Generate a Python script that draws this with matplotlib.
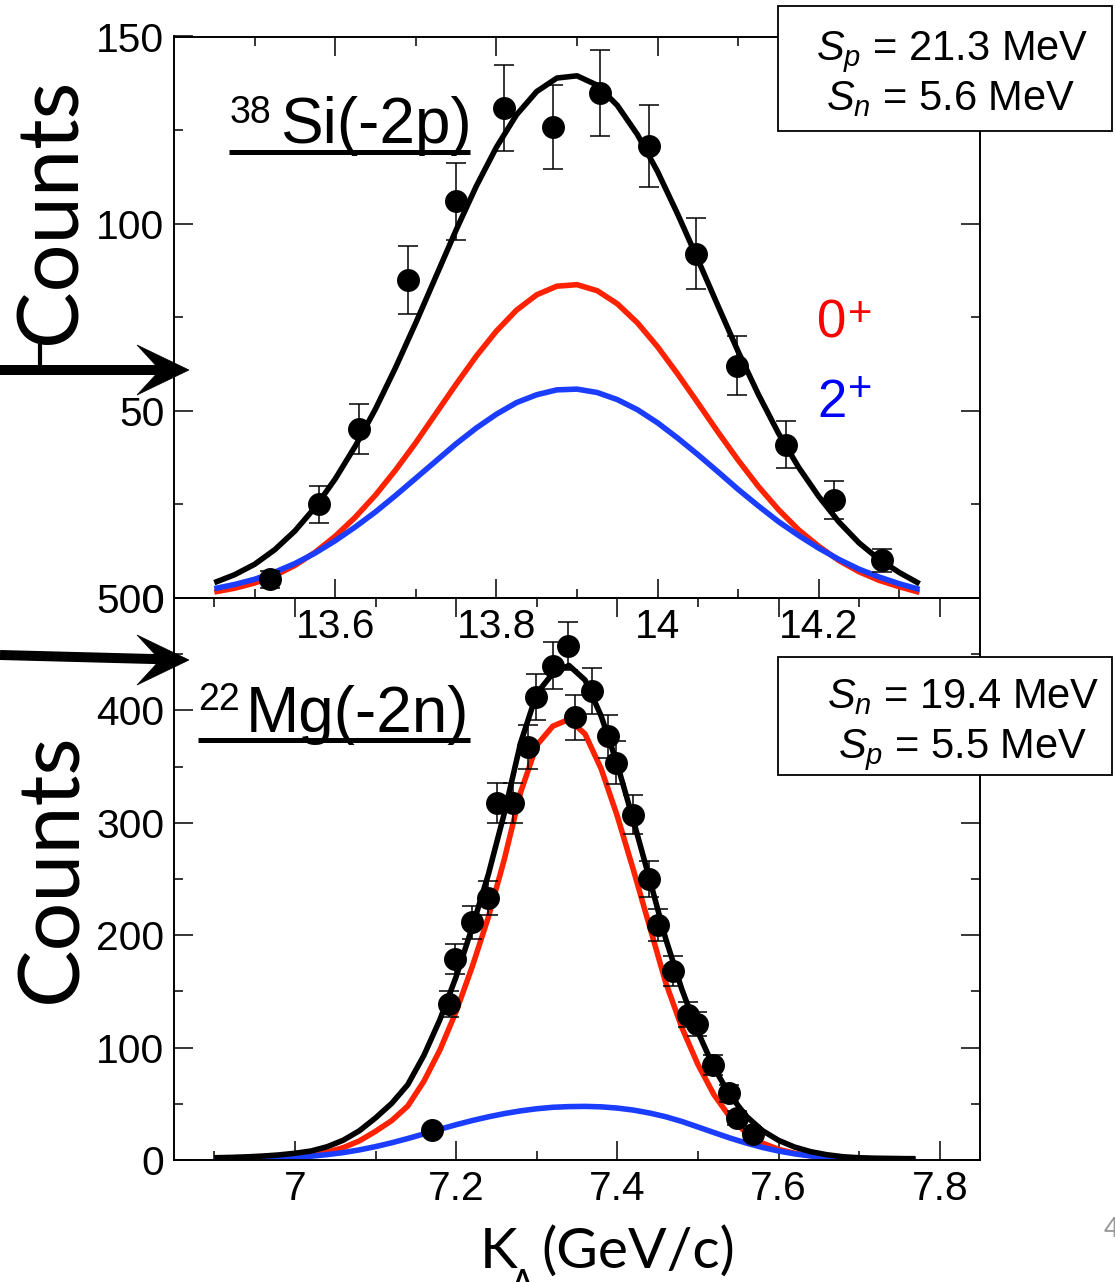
import matplotlib
matplotlib.use("Agg")
import matplotlib.pyplot as plt
from matplotlib.lines import Line2D
from matplotlib.patches import Polygon, Rectangle
from matplotlib.ticker import FixedLocator, FuncFormatter

# ---------------- data ----------------
# 38Si(-2p): measured momentum distribution
kA_si = [13.519, 13.580, 13.630, 13.690, 13.750, 13.810, 13.870, 13.928,
         13.989, 14.048, 14.099, 14.159, 14.219, 14.279]
counts_si = [5.0, 25.0, 45.1, 84.9, 106.0, 130.9, 125.8, 135.0,
             120.8, 92.0, 62.1, 40.9, 26.2, 10.1]
err_si = [2.2, 4.9, 6.7, 9.1, 10.3, 11.4, 11.2, 11.5,
          10.9, 9.4, 7.8, 6.3, 5.1, 3.1]

# 38Si(-2p): calculated components (0+, 2+) and their total
kA_si_fit = [13.450, 13.475, 13.500, 13.525, 13.550, 13.575, 13.600, 13.625,
             13.650, 13.675, 13.700, 13.725, 13.750, 13.775, 13.800, 13.825,
             13.850, 13.875, 13.900, 13.925, 13.950, 13.975, 14.000, 14.025,
             14.050, 14.075, 14.100, 14.125, 14.150, 14.175, 14.200, 14.225,
             14.250, 14.275, 14.300, 14.325]
si_0plus = [1.6, 2.6, 4.0, 6.0, 8.7, 12.2, 16.5, 21.6,
            27.5, 34.2, 41.5, 49.3, 57.1, 64.6, 71.3, 76.9,
            81.0, 83.3, 83.7, 82.1, 78.6, 73.5, 67.1, 59.8,
            52.1, 44.3, 36.8, 29.8, 23.6, 18.2, 13.8, 10.0,
            7.0, 4.7, 3.0, 1.5]
si_2plus = [2.5, 3.6, 5.0, 6.9, 9.2, 12.0, 15.3, 19.0,
            23.0, 27.4, 32.0, 36.6, 41.2, 45.4, 49.1, 52.2,
            54.3, 55.6, 55.8, 54.9, 53.0, 50.3, 46.8, 42.7,
            38.3, 33.7, 29.0, 24.6, 20.4, 16.7, 13.3, 10.3,
            7.7, 5.6, 3.8, 2.3]
si_total = [4.1, 6.2, 9.0, 12.9, 17.9, 24.2, 31.8, 40.6,
            50.5, 61.6, 73.5, 85.9, 98.3, 110.0, 120.4, 129.1,
            135.3, 138.9, 139.5, 137.0, 131.6, 123.8, 113.9, 102.5,
            90.4, 78.0, 65.8, 54.4, 44.0, 34.9, 27.1, 20.3,
            14.7, 10.3, 6.8, 3.8]

# 22Mg(-2n): measured momentum distribution
kA_mg = [7.170, 7.191, 7.199, 7.220, 7.240, 7.251, 7.271, 7.289, 7.299,
         7.320, 7.339, 7.348, 7.369, 7.389, 7.399, 7.420, 7.439, 7.450,
         7.469, 7.488, 7.499, 7.519, 7.539, 7.549, 7.568]
counts_mg = [26.4, 138.7, 178.9, 211.4, 233.0, 317.2, 317.2, 367.5, 411.7,
             439.6, 457.2, 393.9, 417.0, 376.9, 353.6, 307.3, 250.0, 208.9,
             168.2, 129.4, 121.1, 84.6, 59.3, 37.6, 22.8]
err_mg = [3.0, 11.8, 13.4, 14.5, 15.3, 17.8, 17.8, 19.2, 20.3,
          21.0, 21.4, 19.8, 20.4, 19.4, 18.8, 17.5, 15.8, 14.5,
          13.0, 11.4, 11.0, 9.2, 7.7, 6.1, 4.8]

# 22Mg(-2n): calculated components and total
kA_mg_fit = [6.90, 6.92, 6.94, 6.96, 6.98, 7.00, 7.02, 7.04, 7.06, 7.08,
             7.10, 7.12, 7.14, 7.16, 7.18, 7.20, 7.22, 7.24, 7.26, 7.28,
             7.30, 7.32, 7.34, 7.36, 7.38, 7.40, 7.42, 7.44, 7.46, 7.48,
             7.50, 7.52, 7.54, 7.56, 7.58, 7.60, 7.62, 7.64, 7.66, 7.68,
             7.70, 7.72, 7.74, 7.76, 7.77]
mg_0plus = [0.4, 0.6, 0.9, 1.3, 2.0, 3.0, 4.6, 7.0, 11.0, 17.0,
            25.5, 35.0, 48.0, 70.0, 98.0, 132.0, 172.0, 216.0, 268.0, 327.0,
            369.0, 386.0, 392.0, 379.0, 348.0, 306.0, 258.0, 208.0, 158.0, 118.0,
            85.0, 58.0, 38.0, 24.0, 15.0, 9.5, 6.0, 3.8, 2.4, 1.5,
            1.0, 0.7, 0.5, 0.3, 0.3]
mg_2plus = [0.35, 0.5, 0.8, 1.2, 1.7, 2.4, 3.4, 4.8, 6.6, 9.0,
            11.9, 15.3, 19.1, 23.2, 27.4, 31.4, 35.1, 38.4, 41.3, 43.7,
            45.6, 46.9, 47.5, 47.7, 47.3, 46.2, 44.4, 41.8, 38.5, 34.3,
            29.4, 24.4, 19.5, 15.1, 11.2, 8.0, 5.5, 3.6, 2.3, 1.4,
            0.9, 0.6, 0.4, 0.3, 0.3]
mg_total = [2.0, 2.3, 2.8, 3.5, 4.5, 6.0, 8.0, 11.8, 17.6, 26.0,
            37.4, 50.3, 67.0, 93.0, 125.0, 163.0, 207.0, 254.0, 309.0, 371.0,
            415.0, 433.0, 440.0, 427.0, 395.0, 352.0, 302.0, 250.0, 197.0, 152.0,
            114.0, 82.0, 57.5, 39.0, 26.2, 17.5, 11.5, 7.4, 4.7, 2.9,
            2.0, 1.6, 1.4, 1.2, 1.2]

si_xticks = [13.6, 13.8, 14.0, 14.2]
si_xminor = [13.5, 13.7, 13.9, 14.1, 14.3]
si_yticks = [0, 50, 100, 150]
si_yminor = [25, 75, 125]
mg_xticks = [7.0, 7.2, 7.4, 7.6, 7.8]
mg_xminor = [6.9, 7.1, 7.3, 7.5, 7.7]
mg_yticks = [0, 100, 200, 300, 400, 500]
mg_yminor = [50, 150, 250, 350, 450]

# ---------------- style ----------------
plt.rcParams['font.family'] = ['Liberation Sans', 'DejaVu Sans']
plt.rcParams['mathtext.fontset'] = 'custom'
plt.rcParams['mathtext.rm'] = 'Liberation Sans'
plt.rcParams['mathtext.it'] = 'Liberation Sans:italic'
plt.rcParams['axes.linewidth'] = 1.4

RED = '#ff2200'
BLUE = '#1a3dff'
CURVE_LW = 4.0

W, H, DPI = 1115, 1282, 100
fig = plt.figure(figsize=(W / DPI, H / DPI), dpi=DPI)
fig.patch.set_facecolor('white')


def fx(px):
    return px / W


def fy(py):
    return 1 - py / H


L, R = 174, 980
ax_si = fig.add_axes([fx(L), fy(598), (R - L) / W, (598 - 36.5) / H])
ax_mg = fig.add_axes([fx(L), fy(1160), (R - L) / W, (1160 - 598) / H])

fmt = FuncFormatter(lambda v, p: '%g' % v)

for ax in (ax_si, ax_mg):
    ax.patch.set_visible(False)
    ax.tick_params(which='both', direction='in', top=True, right=True,
                   width=1.1, labelsize=29.3, pad=7)
    ax.tick_params(which='major', length=13.7)
    ax.tick_params(which='minor', length=6.8)
    ax.xaxis.set_major_formatter(fmt)
    ax.yaxis.set_major_formatter(fmt)

# ---- 38Si panel ----
ax_si.plot(kA_si_fit, si_0plus, color=RED, lw=CURVE_LW, solid_capstyle='butt')
ax_si.plot(kA_si_fit, si_2plus, color=BLUE, lw=CURVE_LW, solid_capstyle='butt')
ax_si.plot(kA_si_fit, si_total, color='black', lw=CURVE_LW, solid_capstyle='butt')
ax_si.errorbar(kA_si, counts_si, yerr=err_si, fmt='o', color='black',
               ms=15.5, elinewidth=1.1, capsize=7.4, capthick=1.1, zorder=5)
ax_si.set_xlim(13.4, 14.4)
ax_si.set_ylim(0, 150)
ax_si.xaxis.set_major_locator(FixedLocator(si_xticks))
ax_si.xaxis.set_minor_locator(FixedLocator(si_xminor))
ax_si.yaxis.set_major_locator(FixedLocator(si_yticks))
ax_si.yaxis.set_minor_locator(FixedLocator(si_yminor))

# ---- 22Mg panel ----
ax_mg.plot(kA_mg_fit, mg_0plus, color=RED, lw=CURVE_LW, solid_capstyle='butt')
ax_mg.plot(kA_mg_fit, mg_2plus, color=BLUE, lw=CURVE_LW, solid_capstyle='butt')
ax_mg.plot(kA_mg_fit, mg_total, color='black', lw=CURVE_LW, solid_capstyle='butt')
ax_mg.errorbar(kA_mg, counts_mg, yerr=err_mg, fmt='o', color='black',
               ms=15.5, elinewidth=1.1, capsize=7.4, capthick=1.1, zorder=5)
ax_mg.set_xlim(6.85, 7.85)
ax_mg.set_ylim(0, 500)
ax_mg.xaxis.set_major_locator(FixedLocator(mg_xticks))
ax_mg.xaxis.set_minor_locator(FixedLocator(mg_xminor))
ax_mg.yaxis.set_major_locator(FixedLocator(mg_yticks))
ax_mg.yaxis.set_minor_locator(FixedLocator(mg_yminor))

# ---------------- annotations (figure pixel coordinates) ----------------
def ftext(px, py, s, **kw):
    kw.setdefault('va', 'baseline')
    return fig.text(fx(px), fy(py), s, **kw)


def fline(xs, ys, **kw):
    fig.add_artist(Line2D([fx(x) for x in xs], [fy(y) for y in ys], **kw))


# reaction labels with underline
ftext(230, 123, '38', size=27)
ftext(280, 143, 'Si(-2p)', size=46)
fline([229, 470], [152, 152], color='black', lw=3.6, solid_capstyle='butt')

ftext(198, 710, '22', size=27)
ftext(246, 732, 'Mg(-2n)', size=46)
fline([198, 470], [740, 740], color='black', lw=3.6, solid_capstyle='butt')

# separation-energy boxes
for (x0, y0, x1, y1) in [(778, 6, 1112, 131), (778, 657, 1112, 775)]:
    fig.add_artist(Rectangle((fx(x0), fy(y1)), (x1 - x0) / W, (y1 - y0) / H,
                             facecolor='white', edgecolor='black', lw=1.3,
                             transform=fig.transFigure, zorder=10))
ftext(952, 60, r'$S_p$ = 21.3 MeV', size=30, ha='center', zorder=11)
ftext(951, 110, r'$S_n$ = 5.6 MeV', size=30, ha='center', zorder=11)
ftext(963, 708, r'$S_n$ = 19.4 MeV', size=30, ha='center', zorder=11)
ftext(963, 758, r'$S_p$ = 5.5 MeV', size=30, ha='center', zorder=11)

# component labels
ftext(817, 338, '0', size=38, color='#ff0000')
ftext(848, 326, '+', size=30, color='#ff0000')
ftext(817, 417, '2', size=38, color='#0000ff')
ftext(848, 401, '+', size=30, color='#0000ff')

# axis titles
ftext(52, 211, 'Counts', family='Lato', size=61, rotation=90,
      ha='center', va='center')
ftext(52, 868, 'Counts', family='Lato', size=62, rotation=90,
      ha='center', va='center')
ftext(480, 1268, 'K', family='Lato', size=41)
ftext(510, 1297, 'A', family='Lato', size=27)
ftext(541, 1268, '(GeV/c)', family='Lato', size=41)
ftext(1104, 1237, '4', family='Lato', size=19, color='#9a9a9a')

# pointer arrows
fline([40, 40], [344, 372], color='black', lw=3.0, solid_capstyle='butt')
for (y_tail, y_tip) in [(370, 370), (655, 660)]:
    fline([0, 162], [y_tail, y_tip - (y_tip - y_tail) * 0.15],
          color='black', lw=7.2, solid_capstyle='butt')
    head = [(189, y_tip), (137, y_tip - 25), (160, y_tip), (137, y_tip + 25)]
    fig.add_artist(Polygon([(fx(x), fy(y)) for x, y in head], closed=True,
                           facecolor='black', edgecolor='black', lw=0.5,
                           transform=fig.transFigure))

fig.savefig('out.png', dpi=DPI)
